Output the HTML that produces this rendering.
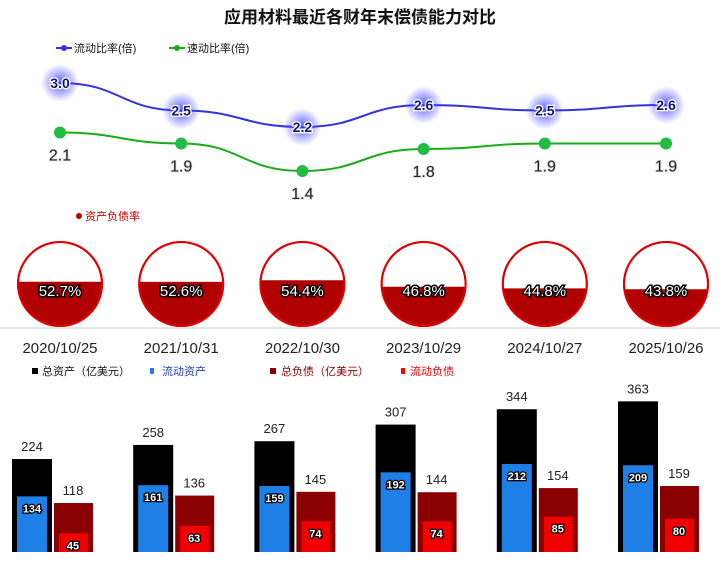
<!DOCTYPE html>
<html><head><meta charset="utf-8"><style>
body{margin:0;background:#fff;width:720px;height:562px;overflow:hidden}
svg{display:block;font-family:"Liberation Sans","Noto Sans CJK SC",sans-serif}
</style></head><body>
<svg id="c" width="720" height="562">
<defs>
<radialGradient id="glow"><stop offset="0" stop-color="#4040ff" stop-opacity="0.85"/><stop offset="1" stop-color="#4040ff" stop-opacity="0"/></radialGradient>
</defs>
<text x="360" y="23" text-anchor="middle" font-size="17" font-weight="bold" fill="#111">应用材料最近各财年末偿债能力对比</text>
<g><line x1="56" y1="48" x2="72" y2="48" stroke="#3333dd" stroke-width="2"/><circle cx="64" cy="48" r="3" fill="#3333dd"/><text x="74" y="52" font-size="11" fill="#111">流动比率(倍)</text></g>
<g><line x1="169" y1="48" x2="185" y2="48" stroke="#1aaa1a" stroke-width="2"/><circle cx="177" cy="48" r="3" fill="#1aaa1a"/><text x="187" y="52" font-size="11" fill="#111">速动比率(倍)</text></g>
<g><circle cx="79" cy="216" r="3" fill="#c00000"/><text x="85" y="220" font-size="11" fill="#c00000">资产负债率</text></g>
<line x1="0" y1="328" x2="720" y2="328" stroke="#ccc"/>
<g font-size="11">
<rect x="32" y="368" width="6" height="6" fill="#000"/><text x="42" y="375" fill="#111">总资产（亿美元）</text>
<rect x="150" y="368" width="4" height="6" fill="#1e7fe6"/><text x="162" y="375" fill="#1e3fb0">流动资产</text>
<rect x="270" y="368" width="6" height="6" fill="#8b0000"/><text x="281" y="375" fill="#8b0000">总负债（亿美元）</text>
<rect x="401" y="368" width="4" height="6" fill="#f00"/><text x="410" y="375" fill="#e00">流动负债</text>
</g>
<g id="g"></g>
</svg>
<script>
const dates=["2020/10/25","2021/10/31","2022/10/30","2023/10/29","2024/10/27","2025/10/26"];
const currentRatio=[3.0,2.5,2.2,2.6,2.5,2.6];
const quickRatio=[2.1,1.9,1.4,1.8,1.9,1.9];
const debtRatio=[52.7,52.6,54.4,46.8,44.8,43.8];
const totalAssets=[224,258,267,307,344,363];
const currentAssets=[134,161,159,192,212,209];
const totalLiab=[118,136,145,144,154,159];
const currentLiab=[45,63,74,74,85,80];
const NS="http://www.w3.org/2000/svg";
const g=document.getElementById('g');
function mk(t,a,p){const e=document.createElementNS(NS,t);for(const k in a)e.setAttribute(k,a[k]);(p||g).appendChild(e);return e;}
const cx=i=>60+i*121.2;
const ry=v=>83+(3.0-v)*55;
const by=v=>552-v*0.415;
function smooth(pts){let d="M"+pts[0][0]+","+pts[0][1];for(let i=1;i<pts.length;i++){const p=pts[i-1],q=pts[i],m=(q[0]-p[0])/2;d+=` C${p[0]+m},${p[1]} ${q[0]-m},${q[1]} ${q[0]},${q[1]}`;}return d;}
let cp=currentRatio.map((v,i)=>[cx(i),ry(v)]), qp=quickRatio.map((v,i)=>[cx(i),ry(v)]);
let l1=mk('path',{d:smooth(cp),fill:'none',stroke:'#3333dd','stroke-width':2});


let l2=mk('path',{d:smooth(qp),fill:'none',stroke:'#1aaa1a','stroke-width':2});


dates.forEach((d,i)=>{
 const x=cx(i);
 let gl=mk('circle',{cx:x,cy:ry(currentRatio[i]),r:19,fill:'url(#glow)'});
 
 
 let t=mk('text',{x:x,y:ry(currentRatio[i])+5,'text-anchor':'middle','font-size':14,'font-weight':'bold',fill:'#14146a',stroke:'#fff','stroke-width':2.5,'paint-order':'stroke'});t.textContent=currentRatio[i].toFixed(1);
 
 
 let qc=mk('circle',{cx:x,cy:ry(quickRatio[i]),r:6,fill:'#22bb44'});
 
 
 let qt=mk('text',{x:x,y:ry(quickRatio[i])+28,'text-anchor':'middle','font-size':16,fill:'#222',stroke:'#ddd','stroke-width':1.5,'paint-order':'stroke'});qt.textContent=quickRatio[i].toFixed(1);
 
 
 const r=42,cy=284,p=debtRatio[i]/100,top=cy+r-2*r*p;
 const cid='cl'+i;const cpth=mk('clipPath',{id:cid});mk('rect',{x:x-r,y:top,width:2*r,height:2*r},cpth);
 let gc=mk('circle',{cx:x,cy:cy,r:r,fill:'#fff',stroke:'#e00000','stroke-width':2});
 
 
 mk('circle',{cx:x,cy:cy,r:r,fill:'#b00000','clip-path':`url(#${cid})`});
 mk('circle',{cx:x,cy:cy,r:r,fill:'none',stroke:'#e00000','stroke-width':2});
 let gt=mk('text',{x:x,y:cy+12,'text-anchor':'middle','font-size':15,fill:'#fff',stroke:'#000','stroke-width':3,'paint-order':'stroke'});gt.textContent=debtRatio[i].toFixed(1)+'%';
 
 
 let dt=mk('text',{x:x,y:353,'text-anchor':'middle','font-size':15,fill:'#222'});dt.textContent=d;
 
 
 const bx=x-48;
 let b1=mk('rect',{x:bx,y:by(totalAssets[i]),width:40,height:552-by(totalAssets[i]),fill:'#000'});
 
 
 let b2=mk('rect',{x:bx+5,y:by(currentAssets[i]),width:30,height:552-by(currentAssets[i]),fill:'#1e7fe6'});
 
 
 let b3=mk('rect',{x:bx+42,y:by(totalLiab[i]),width:39,height:552-by(totalLiab[i]),fill:'#8b0000'});
 
 
 let b4=mk('rect',{x:bx+47,y:by(currentLiab[i]),width:29,height:552-by(currentLiab[i]),fill:'#f00000'});
 
 
 const lab=(xx,yy,v,fill,st,fs)=>{let e=mk('text',{x:xx,y:yy,'text-anchor':'middle','font-size':fs,fill:fill,'font-weight':st?'bold':'normal',stroke:st?'#000':'none','stroke-width':2.5,'paint-order':'stroke'});e.textContent=v;return e;};
 let a=lab(bx+20,by(totalAssets[i])-8,totalAssets[i],'#222',false,13);
 
 
 let b=lab(bx+20,by(currentAssets[i])+16,currentAssets[i],'#fff',true,11);
 
 
 let c=lab(bx+61,by(totalLiab[i])-8,totalLiab[i],'#222',false,13);
 
 
 let e=lab(bx+61,by(currentLiab[i])+16,currentLiab[i],'#fff',true,11);
 
 
});
</script>
</body></html>
